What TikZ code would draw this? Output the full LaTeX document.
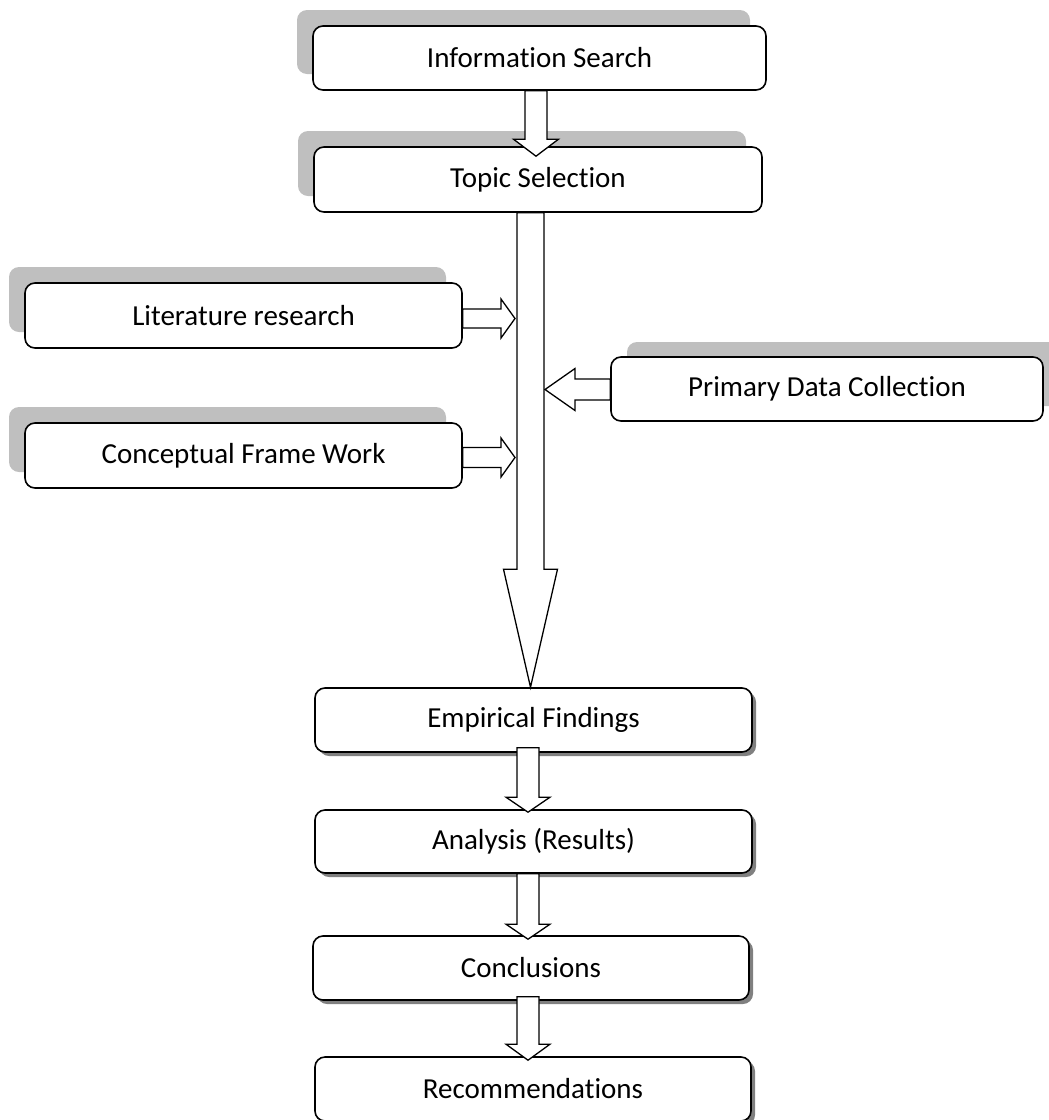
\documentclass[tikz,border=0pt]{standalone}
\usepackage{fontspec}
\setmainfont[Ligatures={NoCommon}]{Carlito}
\usetikzlibrary{calc,shadows}

\tikzset{
  stage/.style={draw, line width=1.6pt, rounded corners=10pt, fill=white,
    inner sep=0pt, font=\fontsize{29}{35}\selectfont},
  shadowleft/.style={general shadow={shadow xshift=-16pt, shadow yshift=16pt, fill=gray!50}},
  shadowright/.style={general shadow={shadow xshift=16pt, shadow yshift=15pt, fill=gray!50}},
  shadowdrop/.style={general shadow={shadow xshift=4pt, shadow yshift=-4pt, fill=black!50}},
  blockarrow/.style={draw, line width=1.3pt, fill=white, line join=miter}
}

% vertical block arrow: start, tip, shaft half width, head half width, head length
\newcommand{\vblock}[5]{%
  \draw[blockarrow] let \p1=(#1), \p2=(#2) in
    ({\x1-#3},\y1) -- ({\x1-#3},{\y2+#5}) -- ({\x1-#4},{\y2+#5}) -- (\x1,\y2)
    -- ({\x1+#4},{\y2+#5}) -- ({\x1+#3},{\y2+#5}) -- ({\x1+#3},\y1) -- cycle;}
% horizontal block arrow: start, tip, shaft half width, head half width, head length
\newcommand{\hblock}[5]{%
  \draw[blockarrow] let \p1=(#1), \p2=(#2) in
    (\x1,{\y1+#3}) -- ({\x2-#5},{\y1+#3}) -- ({\x2-#5},{\y1+#4}) -- (\x2,\y1)
    -- ({\x2-#5},{\y1-#4}) -- ({\x2-#5},{\y1-#3}) -- (\x1,{\y1-#3}) -- cycle;}

\begin{document}
\begin{tikzpicture}[x=1pt, y=1pt]
  \useasboundingbox (0,0) rectangle (1049,-1120);

  % Upper stages
  \node[stage, shadowleft, minimum width=453pt, minimum height=64pt] (info) at (539.5,-58) {Information Search};
  \node[stage, shadowleft, minimum width=448pt, minimum height=65pt] (topic) at (538,-179.5) {Topic Selection};

  % Inputs
  \node[stage, shadowleft, minimum width=437pt, minimum height=65pt] (lit) at (243.5,-315.5) {Literature research};
  \node[stage, shadowleft, minimum width=437pt, minimum height=65pt] (frame) at (243.5,-455.5) {Conceptual Frame Work};
  \node[stage, shadowright, minimum width=432pt, minimum height=64pt] (primary) at (827,-389) {Primary Data Collection};

  % Lower stages
  \node[stage, shadowdrop, minimum width=437pt, minimum height=64pt] (findings) at (533.5,-720) {Empirical Findings};
  \node[stage, shadowdrop, minimum width=437pt, minimum height=63pt] (analysis) at (533.5,-841.5) {Analysis (Results)};
  \node[stage, shadowdrop, minimum width=436pt, minimum height=64pt] (concl) at (531,-968) {Conclusions};
  \node[stage, shadowdrop, minimum width=436pt, minimum height=64pt] (recom) at (533,-1089) {Recommendations};

  % Arrows
  \coordinate (spine) at ($(topic.south)+(-7.5,0)$);
  \vblock{$(info.south)+(-3.5,0)$}{$(topic.north)+(0,-10)$}{11pt}{22.5pt}{17pt}
  \vblock{spine}{findings.north}{13.5pt}{27pt}{118pt}
  \hblock{$(lit.east)+(0,-3)$}{$(spine |- lit.east)+(-15.5,0)$}{9.5pt}{19.5pt}{14pt}
  \hblock{$(frame.east)+(0,-2)$}{$(spine |- frame.east)+(-15.5,0)$}{10pt}{19.5pt}{14pt}
  \hblock{$(primary.west)+(0,-0.5)$}{$(spine |- primary.west)+(14.5,0)$}{10.5pt}{21pt}{-30pt}
  \vblock{$(findings.south)+(-5.5,5)$}{$(analysis.north)+(0,-3)$}{11pt}{22pt}{15pt}
  \vblock{$(analysis.south)+(-5.5,0)$}{$(concl.north)+(0,-4)$}{11pt}{22pt}{15pt}
  \vblock{$(concl.south)+(-3,4)$}{$(recom.north)+(0,-4)$}{11pt}{22pt}{16pt}
\end{tikzpicture}
\end{document}
